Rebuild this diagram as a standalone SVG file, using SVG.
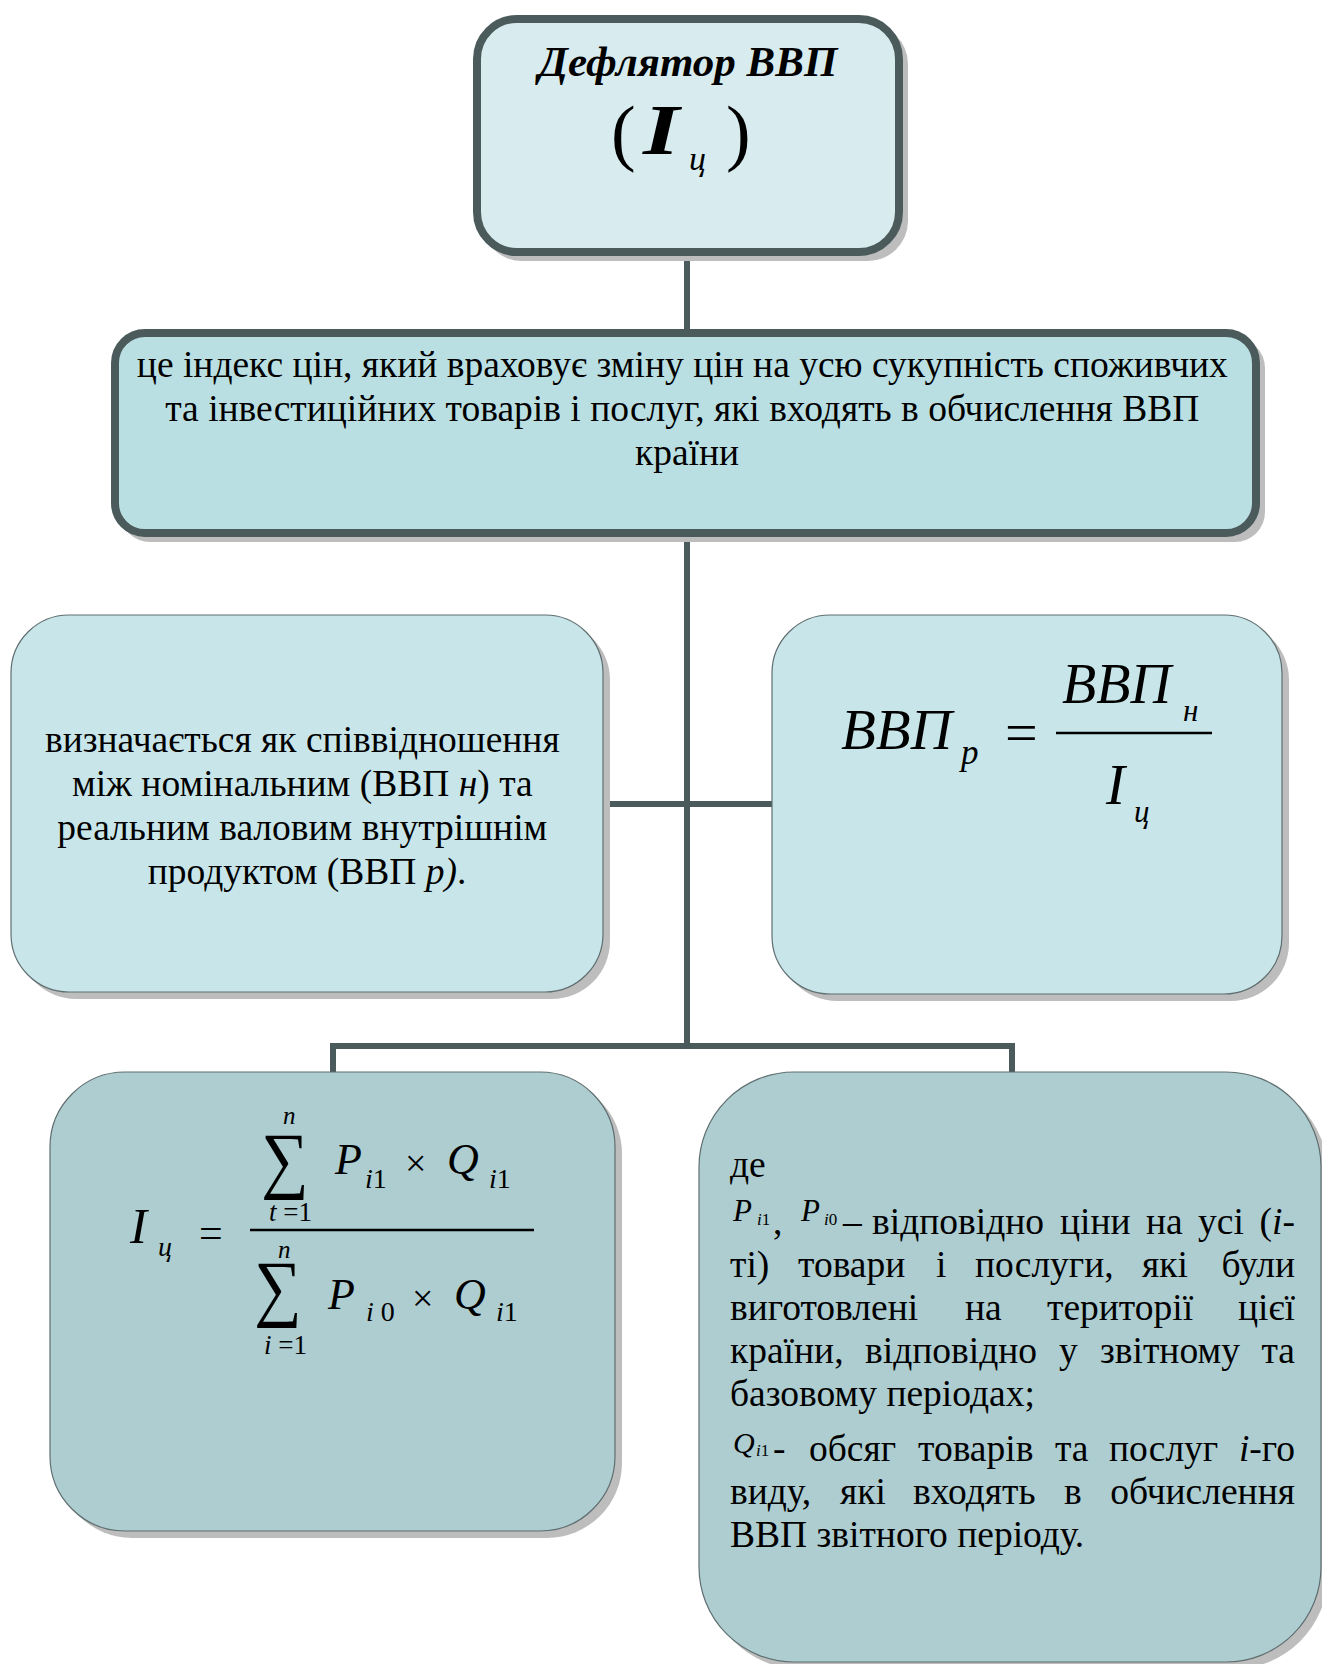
<svg xmlns="http://www.w3.org/2000/svg" width="1322" height="1664" viewBox="0 0 1322 1664">
<style>
.t{font-family:"Liberation Serif","Times New Roman","DejaVu Serif",serif;fill:#000}
.i{font-style:italic}
.b{font-weight:bold}
.sh{fill:#bdbdbd}
.thick{stroke:#4b5a5b;stroke-width:8}
.thin{stroke:#5f6e70;stroke-width:1.2}
.con{stroke:#4b5a5b;stroke-width:6;fill:none}
</style>
<rect width="1322" height="1664" fill="#fff"/>
<g id="connectors">
<line class="con" x1="687" y1="250" x2="687" y2="333"/>
<polyline class="con" points="687,533 687,1046"/>
<line class="con" x1="603" y1="804" x2="772" y2="804"/>
<polyline class="con" points="333,1072 333,1046 1012,1046 1012,1072"/>
</g>
<g id="node-top">
<rect class="sh" x="482" y="24" width="426" height="237" rx="40"/>
<rect x="477" y="19" width="422" height="233" rx="40" fill="#d8ecef" class="thick"/>
<text class="t b i" x="688" y="76" font-size="43" text-anchor="middle">Дефлятор ВВП</text>
<text class="t" x="611" y="157" font-size="74">(</text>
<text class="t b i" x="0" y="0" font-size="72" transform="translate(643,154) scale(1.3,1)">I</text>
<text class="t i" x="689" y="170" font-size="34">ц</text>
<text class="t" x="726" y="157" font-size="74">)</text>
</g>
<g id="node-definition">
<rect class="sh" x="120" y="338" width="1145" height="204" rx="30"/>
<rect x="115" y="333" width="1141" height="200" rx="30" fill="#badfe3" class="thick"/>
<text class="t" font-size="37.5" text-anchor="middle">
<tspan x="687" y="377">це індекс цін, який враховує зміну цін на усю сукупність споживчих</tspan>
<tspan x="687" y="421">та інвестиційних товарів і послуг, які входять в обчислення ВВП</tspan>
<tspan x="687" y="465">країни</tspan>
</text>
</g>
<g id="node-ratio">
<rect class="sh" x="18" y="622" width="592" height="377" rx="58"/>
<rect x="11" y="615" width="592" height="377" rx="58" fill="#c8e6e9" class="thin"/>
<text class="t" font-size="37.5" text-anchor="middle">
<tspan x="307" y="752">визначається як співвідношення</tspan>
<tspan x="307" y="796">між номінальним (ВВП <tspan class="i">н</tspan>) та</tspan>
<tspan x="307" y="840">реальним валовим внутрішнім</tspan>
<tspan x="307" y="884">продуктом (ВВП <tspan class="i">р)</tspan>.</tspan>
</text>
</g>
<g id="node-real-gdp">
<rect class="sh" x="779" y="622" width="510" height="379" rx="58"/>
<rect x="772" y="615" width="510" height="379" rx="58" fill="#c8e6e9" class="thin"/>
<text class="t i" x="841" y="749" font-size="57">ВВП</text>
<text class="t i" x="961" y="764" font-size="35">р</text>
<text class="t" x="1005" y="752" font-size="58">=</text>
<line x1="1056" y1="733" x2="1212" y2="733" stroke="#000" stroke-width="2.5"/>
<text class="t i" x="1062" y="703" font-size="56">ВВП</text>
<text class="t i" x="1183" y="721" font-size="31">н</text>
<text class="t i" x="1106" y="804" font-size="57">I</text>
<text class="t i" x="1134" y="822" font-size="31">ц</text>
</g>
<g id="node-index-formula">
<rect class="sh" x="57" y="1079" width="565" height="459" rx="75"/>
<rect x="50" y="1072" width="565" height="459" rx="75" fill="#adcdd0" class="thin"/>
<text class="t i" x="130" y="1243" font-size="51">I</text>
<text class="t i" x="158" y="1256" font-size="28">ц</text>
<text class="t" x="199" y="1247" font-size="42">=</text>
<line x1="250" y1="1230" x2="534" y2="1230" stroke="#000" stroke-width="2.7"/>
<text class="t i" x="283" y="1124" font-size="25">n</text>
<text class="t" x="0" y="0" font-size="74" text-anchor="middle" transform="translate(285,1184) scale(0.9,1)">∑</text>
<text class="t" x="269" y="1221" font-size="27"><tspan class="i">t</tspan> =1</text>
<text class="t i" x="335" y="1174" font-size="44">P</text>
<text class="t" x="365" y="1188" font-size="28"><tspan class="i">i</tspan>1</text>
<text class="t" x="405" y="1176" font-size="38">×</text>
<text class="t i" x="447" y="1174" font-size="44">Q</text>
<text class="t" x="489" y="1188" font-size="28"><tspan class="i">i</tspan>1</text>
<text class="t i" x="278" y="1258" font-size="25">n</text>
<text class="t" x="0" y="0" font-size="74" text-anchor="middle" transform="translate(278,1312) scale(0.9,1)">∑</text>
<text class="t" x="264" y="1354" font-size="27"><tspan class="i">i</tspan> =1</text>
<text class="t i" x="328" y="1309" font-size="44">P</text>
<text class="t" x="366" y="1321" font-size="28"><tspan class="i">i</tspan> 0</text>
<text class="t" x="412" y="1311" font-size="38">×</text>
<text class="t i" x="454" y="1309" font-size="44">Q</text>
<text class="t" x="496" y="1321" font-size="28"><tspan class="i">i</tspan>1</text>
</g>
<g id="node-legend">
<rect class="sh" x="706" y="1079" width="622" height="590" rx="95"/>
<rect x="699" y="1072" width="622" height="590" rx="95" fill="#adcdd0" class="thin"/>
<g class="t" font-size="37.5">
<text x="730" y="1177">де</text>
<text class="i" x="733" y="1221" font-size="31">P</text>
<text x="757" y="1225" font-size="17"><tspan class="i">i</tspan>1</text>
<text x="773" y="1234">,</text>
<text class="i" x="801" y="1221" font-size="31">P</text>
<text x="824" y="1225" font-size="17"><tspan class="i">i</tspan>0</text>
<text x="843" y="1234">–</text>
<text y="1234"><tspan x="872">відповідно</tspan><tspan x="1060">ціни</tspan><tspan x="1146">на</tspan><tspan x="1198">усі</tspan></text>
<text x="1295" y="1234" text-anchor="end">(<tspan class="i">i</tspan>-</text>
<text y="1277"><tspan x="730">ті)</tspan><tspan x="798">товари</tspan><tspan x="936">і</tspan><tspan x="975">послуги,</tspan><tspan x="1142">які</tspan></text>
<text x="1295" y="1277" text-anchor="end">були</text>
<text y="1320"><tspan x="730">виготовлені</tspan><tspan x="965">на</tspan><tspan x="1047">території</tspan></text>
<text x="1295" y="1320" text-anchor="end">цієї</text>
<text y="1363"><tspan x="730">країни,</tspan><tspan x="865">відповідно</tspan><tspan x="1059">у</tspan><tspan x="1100">звітному</tspan></text>
<text x="1295" y="1363" text-anchor="end">та</text>
<text x="730" y="1406">базовому періодах;</text>
<text class="i" x="733" y="1453" font-size="30">Q</text>
<text x="756" y="1456" font-size="17"><tspan class="i">i</tspan>1</text>
<text x="773" y="1461">-</text>
<text y="1461"><tspan x="809">обсяг</tspan><tspan x="918">товарів</tspan><tspan x="1055">та</tspan><tspan x="1109">послуг</tspan></text>
<text x="1295" y="1461" text-anchor="end"><tspan class="i">i</tspan>-го</text>
<text y="1504"><tspan x="730">виду,</tspan><tspan x="840">які</tspan><tspan x="913">входять</tspan><tspan x="1064">в</tspan></text>
<text x="1295" y="1504" text-anchor="end">обчислення</text>
<text x="730" y="1547">ВВП звітного періоду.</text>
</g>
</g>
</svg>
